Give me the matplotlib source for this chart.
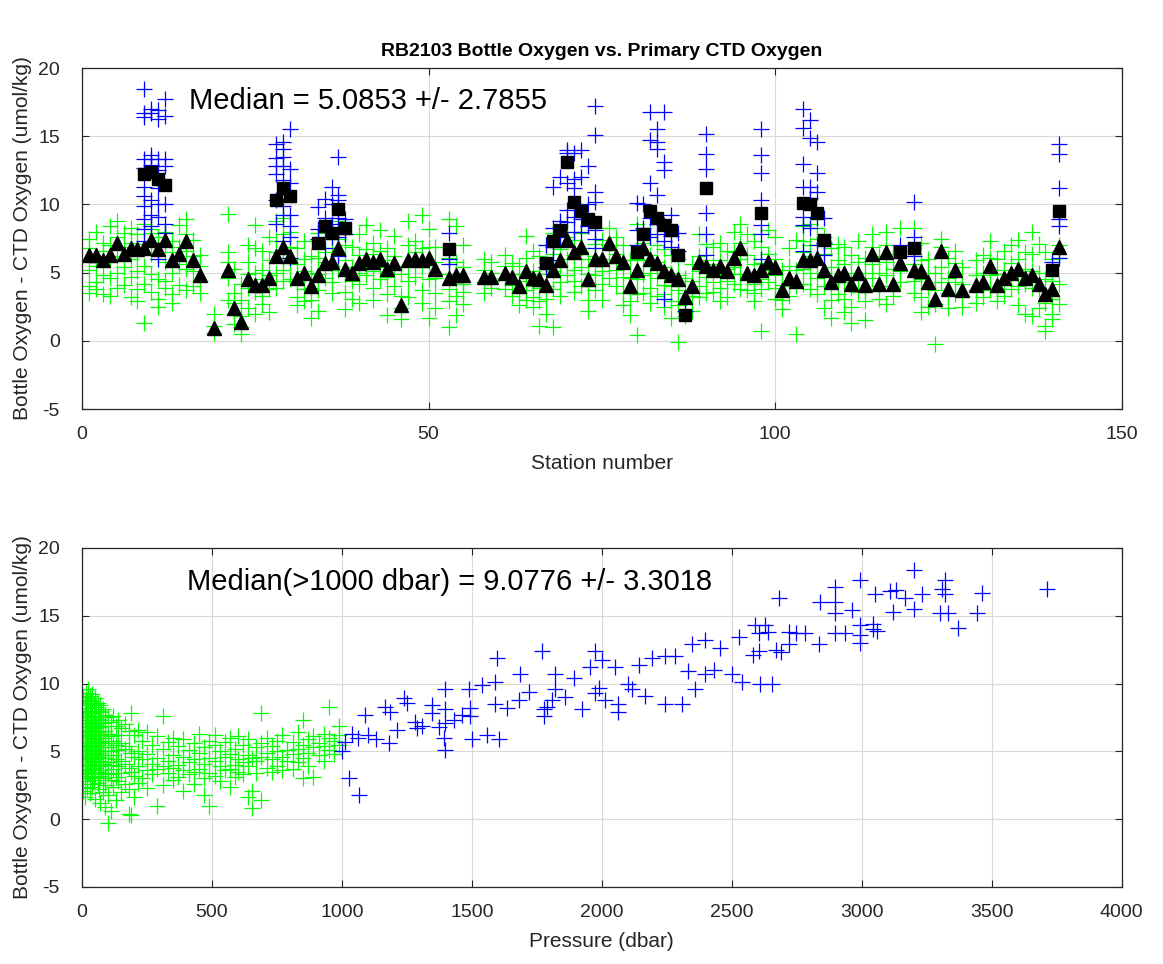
import numpy as np
import matplotlib
matplotlib.use("Agg")
import matplotlib.pyplot as plt

plt.rcParams['font.family'] = ['Liberation Sans', 'DejaVu Sans']
plt.rcParams['axes.unicode_minus'] = False

# ----------------------
# Top panel: per-station medians
# ----------------------
stations = [1, 2, 3, 4, 5, 6, 7, 8, 9, 10, 11, 12, 13, 14, 15, 16, 17, 19, 21, 22,
            23, 24, 25, 26, 27, 28, 29, 30, 31, 32, 33, 34, 35, 36, 37, 38, 39, 40, 41, 42,
            43, 44, 45, 46, 47, 48, 49, 50, 51, 53, 54, 55, 58, 59, 61, 62, 63, 64, 65, 66,
            67, 68, 69, 70, 71, 72, 73, 74, 75, 76, 77, 78, 79, 80, 81, 82, 83, 84, 85, 86,
            87, 88, 89, 90, 91, 92, 93, 94, 95, 96, 97, 98, 99, 100, 101, 102, 103, 104, 105, 106,
            107, 108, 109, 110, 111, 112, 113, 114, 115, 116, 117, 118, 120, 121, 122, 123, 124, 125, 126, 127,
            129, 130, 131, 132, 133, 134, 135, 136, 137, 138, 139, 140, 141]
shallow_median = [6.3, 6.3, 5.9, 6.3, 7.2, 6.4, 6.8, 6.7, 6.8, 7.4, 6.7, 7.4, 5.9, 6.4, 7.3, 5.9, 4.8, 0.95, 5.2, 2.4,
                  1.4, 4.5, 4.1, 4.1, 4.6, 6.2, 6.9, 6.2, 4.6, 5.0, 4.0, 4.8, 5.7, 5.8, 6.8, 5.3, 5.0, 5.7, 6.0, 5.8,
                  6.0, 5.3, 5.7, 2.6, 5.9, 6.0, 5.9, 6.1, 5.3, 4.6, 4.8, 4.8, 4.7, 4.7, 5.0, 4.7, 4.0, 5.1, 4.6, 4.5,
                  4.1, 5.2, 5.9, 7.4, 6.5, 6.9, 4.5, 6.0, 6.0, 7.2, 6.2, 5.8, 4.0, 5.2, 6.8, 6.0, 5.7, 5.1, 4.8, 4.5,
                  3.2, 4.0, 5.8, 5.5, 5.2, 5.5, 5.1, 6.1, 6.8, 5.0, 4.8, 5.2, 5.8, 5.4, 3.7, 4.6, 4.4, 5.9, 5.9, 6.1,
                  5.2, 4.3, 4.8, 5.0, 4.2, 5.0, 4.1, 6.4, 4.2, 6.5, 4.2, 5.7, 5.2, 5.1, 4.3, 3.1, 6.6, 3.8, 5.2, 3.7,
                  4.1, 4.3, 5.5, 4.1, 4.6, 5.0, 5.3, 4.6, 4.8, 4.2, 3.4, 3.8, 6.9]

deep_stations = [9, 10, 11, 12, 28, 29, 30, 34, 35, 36, 37, 38, 53, 67, 68, 69, 70, 71, 72, 73,
                 74, 80, 81, 82, 83, 84, 85, 86, 87, 90, 98, 104, 105, 106, 107, 118, 120, 140, 141]
deep_median = [12.2, 12.4, 11.9, 11.4, 10.3, 11.2, 10.6, 7.2, 8.4, 7.9, 9.7, 8.3, 6.7, 5.7, 7.3, 8.1, 13.1, 10.2, 9.5, 8.9,
               8.7, 6.5, 7.8, 9.5, 9.0, 8.5, 8.1, 6.3, 1.9, 11.2, 9.4, 10.1, 10.0, 9.4, 7.4, 6.5, 6.8, 5.2, 9.5]

# individual bottles, shallow (<1000 dbar), one list per entry in `stations`
shallow_vals = [
    [7.5, 6.8, 5.2, 4.0, 3.5], [8.0, 6.0, 5.5, 4.3, 3.8], [7.2, 6.6, 4.8, 3.4], [8.4, 7.0, 5.9, 4.6, 3.3],
    [8.8, 7.6, 6.2, 5.0, 3.9], [7.9, 6.9, 5.4, 4.1], [8.3, 7.2, 6.0, 4.7, 3.2], [7.8, 6.3, 5.1, 3.8, 2.9],
    [8.6, 7.1, 5.5, 4.2, 1.3], [8.2, 7.9, 6.4, 4.9, 3.6], [7.6, 6.0, 4.5, 3.1, 2.5], [8.0, 7.0, 5.8, 4.4, 3.9],
    [7.3, 6.5, 5.0, 3.4, 2.8], [8.5, 6.9, 5.6, 4.1], [8.9, 7.8, 6.6, 5.3, 3.7], [7.4, 6.2, 5.1, 4.0],
    [6.3, 5.5, 4.4, 3.5], [2.0, 1.1, 0.6], [9.3, 6.5, 5.8, 4.6, 3.0], [5.3, 3.5, 2.8, 2.0, 1.2],
    [4.2, 3.0, 1.8, 1.0, 0.5], [7.0, 5.8, 4.9, 3.9, 2.4], [8.5, 6.8, 5.0, 3.6, 2.0], [6.6, 5.2, 4.5, 3.3, 2.7],
    [7.6, 5.9, 4.8, 3.8, 2.1], [8.8, 7.3, 6.5, 5.0, 3.9], [9.0, 7.8, 6.1, 5.2, 4.4], [8.0, 6.9, 5.8, 4.5],
    [6.8, 5.6, 4.3, 3.2, 2.6], [7.3, 6.0, 5.1, 3.8, 2.9], [6.2, 5.0, 3.9, 3.0, 1.7], [7.9, 6.1, 4.9, 3.7, 2.2],
    [8.4, 6.5, 5.8, 4.6], [7.5, 6.8, 5.5, 4.3, 3.5], [8.8, 7.5, 6.4, 5.2], [7.0, 5.9, 4.8, 3.6, 2.3],
    [6.9, 5.4, 4.4, 3.1], [7.8, 6.3, 5.0, 4.2, 2.8], [8.5, 6.7, 5.6, 4.8], [7.2, 6.4, 5.1, 3.9, 3.0],
    [8.1, 6.6, 5.4, 4.5], [6.8, 5.9, 4.7, 3.4, 1.9], [7.7, 6.2, 5.3, 4.0], [4.9, 3.3, 2.4, 1.6],
    [8.8, 7.0, 5.5, 4.4, 3.2], [7.3, 6.5, 5.6, 4.7], [9.2, 6.8, 5.4, 3.7, 2.8], [8.2, 6.9, 5.8, 4.5, 1.7],
    [6.9, 5.8, 4.6, 3.5, 2.4], [8.9, 6.1, 4.9, 3.8, 2.9, 1.0], [8.4, 5.8, 4.5, 3.3, 1.9], [7.0, 5.4, 4.2, 3.6, 2.7],
    [6.0, 5.2, 4.3, 3.5], [5.8, 5.0, 4.4, 3.9], [6.3, 5.5, 4.6, 3.8], [5.7, 4.9, 4.1, 3.3],
    [5.5, 4.4, 3.5, 2.6], [7.7, 6.1, 4.8, 3.7, 3.0], [6.6, 5.1, 4.0, 3.2, 2.5], [6.2, 4.9, 3.9, 2.9, 1.1],
    [7.0, 5.3, 4.0, 3.1, 2.0], [7.9, 6.4, 5.1, 3.8, 1.0], [8.4, 6.7, 5.5, 4.3, 3.3], [8.0, 7.6, 6.0, 4.8],
    [7.4, 6.3, 5.2, 4.4, 3.6], [7.9, 6.8, 5.4, 4.0], [6.0, 4.9, 4.0, 3.0, 2.2], [7.1, 6.2, 4.8, 3.7],
    [7.4, 6.0, 5.1, 4.2, 3.0], [8.3, 7.0, 5.7, 4.6], [7.6, 6.4, 5.2, 4.0], [7.0, 5.9, 4.7, 3.5, 2.6],
    [5.9, 4.6, 3.6, 2.9, 1.9], [8.6, 6.0, 4.5, 3.4, 0.4], [8.2, 7.2, 5.9, 4.8, 3.5], [7.8, 6.3, 5.0, 3.9, 2.8],
    [7.0, 5.8, 4.6, 3.3], [6.7, 5.4, 4.1, 3.4, 2.5], [6.3, 5.0, 4.0, 2.9, 1.7], [6.0, 4.8, 3.7, 2.6, -0.1],
    [4.6, 3.5, 2.7, 1.8], [5.6, 4.4, 3.3, 2.2], [7.8, 6.2, 5.1, 4.0, 3.2], [7.1, 5.9, 4.7, 3.5],
    [6.9, 5.6, 4.3, 3.6], [7.2, 5.9, 4.8, 3.9, 2.9], [6.6, 5.3, 4.4, 3.2], [8.0, 6.5, 5.4, 4.2],
    [8.6, 7.2, 6.0, 4.9, 3.8], [7.8, 6.3, 4.6, 3.7], [7.3, 5.6, 4.2, 3.5, 2.9], [6.9, 5.7, 4.5, 3.8, 0.7],
    [8.1, 6.4, 5.2, 4.3], [7.6, 6.0, 4.8, 3.9, 3.1], [5.2, 4.1, 3.0, 2.3], [6.8, 5.5, 4.0, 3.3],
    [7.4, 5.2, 4.0, 0.5], [8.4, 7.3, 6.5, 5.3, 4.2], [8.6, 7.0, 6.2, 5.0, 3.8], [8.3, 7.5, 5.7, 4.6, 3.4],
    [7.6, 6.4, 5.0, 4.0, 2.4], [6.8, 5.4, 4.2, 3.0, 1.7], [7.1, 5.9, 4.5, 3.4], [6.9, 5.6, 4.3, 3.1, 2.1],
    [6.3, 5.0, 3.9, 2.5, 1.3], [7.3, 5.8, 4.6, 3.6], [6.1, 5.0, 3.8, 2.9, 1.5], [7.8, 6.9, 5.6, 4.6],
    [6.2, 5.0, 4.0, 3.1], [8.0, 7.0, 5.8, 4.8, 2.7], [6.4, 5.3, 4.0, 3.3], [8.3, 6.6, 5.1, 4.3],
    [8.3, 7.0, 5.6, 4.4, 3.5], [7.2, 5.9, 4.5, 3.2, 2.1], [6.0, 5.0, 3.9, 2.5], [5.0, 3.7, 2.7, -0.2],
    [7.5, 6.9, 5.4, 4.3], [6.1, 4.6, 3.5, 2.4], [6.6, 5.7, 4.3, 3.4], [5.4, 4.2, 3.3, 2.5],
    [5.9, 4.8, 3.7, 2.8], [6.3, 5.0, 3.9, 3.2], [7.3, 6.1, 4.8, 3.7], [6.0, 4.9, 3.6, 2.9],
    [6.6, 5.2, 4.1, 3.3], [7.0, 5.7, 4.6, 3.8], [7.4, 6.0, 4.9, 4.0, 2.6], [6.5, 5.3, 4.2, 2.0],
    [8.0, 6.4, 5.1, 3.9, 1.8], [7.1, 5.0, 3.8, 2.4], [6.5, 4.5, 2.8, 1.1, 0.7], [6.0, 4.4, 3.1, 2.0, 1.6],
    [7.0, 6.1, 4.2, 2.7],
]

# individual bottles, deep (>1000 dbar), one list per entry in `deep_stations`
deep_vals = [
    [18.5, 16.4, 16.7, 13.3, 12.7, 11.3, 10.6, 9.9, 8.9, 8.2, 7.3], [17.0, 16.7, 13.6, 13.3, 12.9, 10.3, 9.2, 8.4],
    [16.9, 16.3, 13.3, 12.5, 11.2, 10.0, 9.1, 6.0], [17.7, 16.5, 13.3, 12.8, 10.0, 8.6, 7.9],
    [14.4, 13.4, 12.8, 12.2, 10.3, 8.6], [14.6, 14.1, 13.5, 12.8, 11.8, 9.9, 9.2, 7.3],
    [15.5, 12.6, 11.6, 9.2, 8.4, 7.6, 6.1], [9.8, 8.2, 7.5], [10.4, 9.0, 8.1, 6.8], [11.3, 10.0, 8.6, 7.6],
    [13.5, 10.7, 10.3, 9.0, 7.6, 6.2], [8.9, 7.8], [7.9, 6.0, 5.6], [7.0, 5.4], [11.3, 8.3, 6.9, 5.9],
    [12.0, 8.8, 7.6], [14.0, 13.8, 11.6, 9.6, 8.7], [13.8, 11.9, 11.2, 9.1, 8.0], [14.0, 12.0, 8.9, 8.0],
    [12.8, 10.0, 8.4], [17.2, 15.1, 10.9, 10.2, 8.1, 7.5, 6.8], [10.1, 8.1, 7.0], [10.0, 8.3],
    [16.8, 14.7, 11.6, 9.0, 7.6], [15.5, 14.6, 14.1, 10.7, 8.6, 7.8], [16.8, 13.1, 12.5, 8.5, 7.3, 3.1],
    [9.2, 7.7, 6.9], [7.9, 6.6], [2.2], [15.2, 13.7, 12.6, 9.4, 7.8, 6.3],
    [15.5, 13.6, 12.3, 10.3, 8.5, 7.8, 6.0], [17.0, 15.6, 13.0, 11.3, 9.1, 8.5, 6.6],
    [16.2, 14.9, 11.3, 10.5, 8.3], [14.6, 12.3, 10.9, 9.0, 7.0], [9.0, 7.2, 6.3], [7.0],
    [10.2, 7.6, 6.2], [5.8], [14.4, 13.7, 11.2, 8.9, 8.4, 6.1],
]

# ----------------------
# Bottom panel: difference vs pressure
# ----------------------
shallow_pres_levels = [5, 10, 15, 20, 25, 30, 35, 40, 45, 50, 55, 60, 65, 70, 75, 80, 90, 100, 110, 120,
                       130, 140, 150, 165, 180, 190, 200, 215, 230, 250, 270, 290, 310, 330, 350, 370, 390, 410, 430, 450,
                       470, 490, 510, 530, 550, 570, 590, 600, 620, 640, 655, 670, 690, 710, 730, 750, 770, 790, 810, 830,
                       850, 870, 890, 910, 930, 950, 970, 990]
shallow_pres_vals = [
    [9.0, 7.5, 6.2, 5.1, 4.0, 3.2, 2.1], [8.6, 7.9, 6.8, 5.6, 4.6, 3.7, 2.8, 1.6], [9.3, 8.2, 7.1, 6.0, 5.3, 4.4, 3.5],
    [8.8, 7.7, 6.5, 5.8, 4.9, 4.1, 3.0, 2.3], [9.6, 8.4, 7.3, 6.4, 5.5, 4.3, 3.4], [9.1, 8.0, 6.9, 6.1, 5.0, 3.9, 2.6, 1.9],
    [8.7, 7.5, 6.6, 5.4, 4.7, 3.6], [9.2, 7.8, 7.0, 6.3, 5.2, 4.5, 3.3, 2.4], [8.5, 7.2, 5.9, 4.8, 4.0, 2.9],
    [8.9, 7.6, 6.7, 5.6, 4.4, 3.8, 3.1, 1.5], [8.3, 7.0, 6.0, 5.1, 4.2], [8.6, 7.4, 6.4, 5.5, 4.6, 3.5, 2.7],
    [8.0, 6.8, 5.8, 4.9, 3.9, 2.2], [8.4, 7.3, 6.2, 5.3, 4.3, 3.2, 1.2], [7.9, 6.9, 5.7, 4.7, 3.6],
    [8.1, 7.1, 6.0, 5.0, 4.1, 3.0, 2.0], [7.7, 6.5, 5.6, 4.5, 3.4, 2.5, 0.9], [7.5, 6.3, 5.3, 4.2, 3.3, 1.8, -0.3],
    [7.2, 6.1, 5.0, 4.0, 2.9, 0.6], [7.6, 5.8, 4.7, 3.7, 2.4], [6.9, 5.5, 4.4, 3.1, 1.4], [7.3, 6.2, 5.1, 3.9, 2.8],
    [6.7, 5.6, 4.3, 3.4, 2.0], [7.0, 5.2, 4.1, 2.6], [6.5, 5.4, 3.8, 2.2, 0.4], [7.8, 4.9, 3.5, 0.3],
    [6.2, 4.6, 3.2, 1.6], [6.6, 5.0, 3.9, 2.7], [5.8, 4.4, 3.0], [6.4, 4.8, 3.6, 2.3], [5.5, 4.1, 3.3],
    [6.1, 4.5, 3.7, 1.0], [7.6, 5.2, 3.9, 2.5], [5.7, 4.3, 3.4], [6.0, 4.7, 3.8, 2.9], [5.4, 4.0, 3.1],
    [5.9, 4.6, 3.6, 2.1], [5.1, 4.2, 3.3], [5.6, 4.4, 3.5, 2.6], [6.3, 4.9, 3.7], [5.3, 4.1, 3.0, 1.8],
    [5.8, 4.5, 3.4, 1.0], [6.2, 5.5, 4.3, 3.2], [5.0, 3.9, 2.8], [5.7, 4.6, 3.6], [6.0, 4.8, 3.7, 2.4],
    [5.2, 4.0, 3.1], [6.1, 4.4, 3.5], [5.5, 4.2, 3.3], [5.9, 4.7, 3.9, 1.6], [4.5, 0.8, 2.1], [5.3, 4.3, 3.4],
    [7.8, 5.6, 4.6, 1.4], [6.0, 4.9, 3.8], [5.4, 4.4, 3.5], [5.8, 5.0, 3.9], [6.2, 4.6, 3.6], [5.1, 4.3],
    [5.7, 4.8, 3.7], [6.4, 5.2, 4.2], [7.3, 5.5, 4.5, 3.0], [5.9, 4.9, 3.9], [6.1, 5.3, 3.1], [5.6, 4.7],
    [6.3, 5.4, 4.3], [8.3, 6.0, 5.1], [5.8, 4.8], [6.9, 6.2, 5.5],
]

deep_pres = [1000, 1013, 1026, 1064, 1040, 1060, 1090, 1100, 1130, 1167, 1180, 1185, 1210, 1237, 1250, 1283, 1290, 1308, 1346, 1347,
             1372, 1392, 1398, 1398, 1398, 1398, 1430, 1462, 1487, 1494, 1494, 1500, 1540, 1558, 1590, 1590, 1596, 1603, 1635, 1680,
             1686, 1720, 1769, 1776, 1776, 1790, 1810, 1821, 1821, 1860, 1891, 1924, 1955, 1975, 1975, 1990, 2000, 2013, 2051, 2064,
             2064, 2100, 2115, 2141, 2167, 2192, 2244, 2244, 2282, 2308, 2330, 2347, 2359, 2398, 2398, 2430, 2455, 2500, 2526, 2539,
             2580, 2590, 2603, 2603, 2609, 2629, 2641, 2654, 2670, 2680, 2690, 2719, 2719, 2745, 2783, 2834, 2840, 2898, 2898, 2898,
             2898, 2936, 2962, 2994, 2994, 2994, 2994, 3045, 3045, 3051, 3060, 3108, 3119, 3130, 3167, 3199, 3199, 3231, 3300, 3310,
             3320, 3320, 3330, 3372, 3443, 3464, 3712]
deep_pres_vals = [5.0, 5.7, 3.0, 1.8, 6.3, 6.0, 7.7, 6.2, 5.9, 8.3, 5.6, 7.9, 6.6, 8.9, 8.6, 7.2, 6.7, 6.9, 8.4, 7.8,
                  6.8, 6.0, 9.6, 8.1, 7.1, 5.1, 7.3, 7.7, 9.6, 7.6, 8.2, 5.9, 9.9, 6.2, 8.5, 10.1, 11.9, 5.9, 8.2, 8.8,
                  10.7, 9.4, 12.4, 8.1, 7.6, 8.3, 8.8, 10.7, 9.6, 9.0, 10.4, 8.1, 11.2, 9.3, 12.4, 9.7, 11.7, 8.8, 11.2, 7.9,
                  8.5, 10.0, 9.6, 11.4, 9.1, 11.9, 12.0, 8.5, 12.0, 8.5, 10.9, 12.9, 9.6, 13.2, 10.7, 11.0, 12.6, 10.7, 13.4, 10.1,
                  12.1, 14.3, 13.7, 12.4, 10.0, 14.3, 13.8, 10.0, 12.5, 16.3, 12.3, 13.8, 12.9, 13.7, 13.7, 12.9, 16.0, 17.1, 16.0, 15.2,
                  13.7, 13.7, 15.4, 17.6, 14.3, 13.6, 13.0, 14.0, 14.4, 16.6, 13.9, 16.8, 15.3, 16.9, 16.3, 18.4, 15.5, 16.6, 15.2, 17.0,
                  17.6, 16.6, 15.2, 14.1, 15.2, 16.7, 17.0]

# ----------------------
# Expand per-group lists into points
# ----------------------
sx = [s for s, vals in zip(stations, shallow_vals) for _ in vals]
sy = [v for vals in shallow_vals for v in vals]
dx = [s for s, vals in zip(deep_stations, deep_vals) for _ in vals]
dy = [v for vals in deep_vals for v in vals]
px = [p for p, vals in zip(shallow_pres_levels, shallow_pres_vals) for _ in vals]
py = [v for vals in shallow_pres_vals for v in vals]

GREEN = (0, 1, 0)
BLUE = (0, 0, 1)
DARK = (0.15, 0.15, 0.15)
ylab = 'Bottle Oxygen - CTD Oxygen (umol/kg)'


def style_axes(ax):
    ax.set_ylim(-5, 20)
    ax.set_yticks([-5, 0, 5, 10, 15, 20])
    ax.grid(True, color=(0.85, 0.85, 0.85), linewidth=0.8)
    ax.set_axisbelow(True)
    ax.tick_params(direction='in', length=5, labelsize=14, colors=DARK, top=True, right=True)
    ax.tick_params(axis='x', pad=12)
    ax.tick_params(axis='y', pad=16)
    for sp in ax.spines.values():
        sp.set_color(DARK)
        sp.set_linewidth(0.9)
    ax.set_ylabel(ylab, fontsize=15, color=DARK, labelpad=4)


fig = plt.figure(figsize=(11.63, 9.64), dpi=100)

# top
ax1 = fig.add_axes([0.0705, 0.5757, 0.894, 0.3537])
ax1.plot(sx, sy, '+', color=GREEN, markersize=11, markeredgewidth=0.9)
ax1.plot(dx, dy, '+', color=BLUE, markersize=11, markeredgewidth=0.9)
ax1.plot(stations, shallow_median, '^', color='k', markersize=10)
ax1.plot(deep_stations, deep_median, 's', color='k', markersize=8.5)
ax1.set_xlim(0, 150)
ax1.set_xticks([0, 50, 100, 150])
style_axes(ax1)
ax1.set_xlabel('Station number', fontsize=15, color=DARK, labelpad=8)
ax1.set_title('RB2103 Bottle Oxygen vs. Primary CTD Oxygen', fontsize=14, fontweight='bold', pad=9)
ax1.text(15.5, 17.6, 'Median = 5.0853 +/- 2.7855', fontsize=21, va='center', ha='left')

# bottom
ax2 = fig.add_axes([0.0705, 0.0799, 0.894, 0.3517])
ax2.plot(px, py, '+', color=GREEN, markersize=11, markeredgewidth=0.9)
ax2.plot(deep_pres, deep_pres_vals, '+', color=BLUE, markersize=11, markeredgewidth=0.9)
ax2.set_xlim(0, 4000)
ax2.set_xticks(np.arange(0, 4001, 500))
style_axes(ax2)
ax2.set_xlabel('Pressure (dbar)', fontsize=15, color=DARK, labelpad=8)
ax2.text(405, 17.5, 'Median(>1000 dbar) = 9.0776 +/- 3.3018', fontsize=21, va='center', ha='left')

fig.savefig('out.png', dpi=100)
